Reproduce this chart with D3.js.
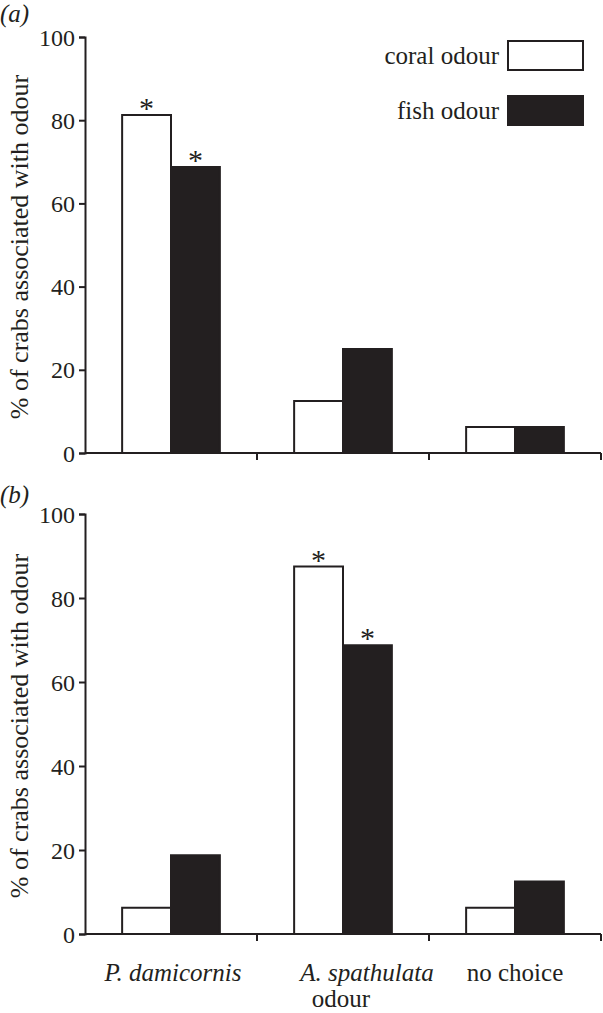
<!DOCTYPE html>
<html lang="en">
<head>
  <meta charset="utf-8" />
  <title>Crab odour choice</title>
  <style>
    body { margin: 0; background: #fff; }
    svg { display: block; }
    svg text { font-family: "Liberation Serif", "Times New Roman", serif; fill: #231f20; }
    .axis path, .axis line { stroke: #231f20; stroke-width: 2px; }
    .axis text { font-size: 24px; }
  </style>
</head>
<body>
<script src="https://cdn.jsdelivr.net/npm/d3@7"></script>
<script>
  const categories = ["P. damicornis", "A. spathulata", "no choice"];
  const series = ["coral odour", "fish odour"];
  const yTicks = [0, 20, 40, 60, 80, 100];

  // panel (a)
  const coralA = [81.25, 12.5, 6.25];
  const fishA = [68.75, 25, 6.25];
  const sigA = [true, false, false];
  // panel (b)
  const coralB = [6.25, 87.5, 6.25];
  const fishB = [18.75, 68.75, 12.5];
  const sigB = [false, true, false];

  const width = 603, height = 1013;
  const ink = "#231f20";

  const svg = d3.select("body").append("svg")
    .attr("width", width)
    .attr("height", height);

  const x = d3.scaleBand().domain(categories).range([85, 601]);
  const xs = d3.scaleBand().domain(series).range([0, x.bandwidth()]).paddingOuter(0.76);
  const fills = {"coral odour": "#fff", "fish odour": ink};

  const panels = [
    {label: "(a)", coral: coralA, fish: fishA, sig: sigA, top: 37, bottom: 453, labelY: 22, xLabels: false},
    {label: "(b)", coral: coralB, fish: fishB, sig: sigB, top: 514, bottom: 934, labelY: 503, xLabels: true}
  ];

  panels.forEach(p => {
    const y = d3.scaleLinear().domain([0, 100]).range([p.bottom, p.top]);
    const g = svg.append("g");

    const rows = categories.map((c, i) => ({
      cat: c,
      vals: [
        {s: "coral odour", v: p.coral[i], sig: p.sig[i]},
        {s: "fish odour", v: p.fish[i], sig: p.sig[i]}
      ]
    }));

    const grp = g.selectAll("g.cat").data(rows).join("g")
      .attr("class", "cat")
      .attr("transform", d => `translate(${x(d.cat)},0)`);

    grp.selectAll("rect").data(d => d.vals).join("rect")
      .attr("x", d => xs(d.s))
      .attr("width", xs.bandwidth())
      .attr("y", d => y(d.v))
      .attr("height", d => y(0) - y(d.v))
      .attr("fill", d => fills[d.s])
      .attr("stroke", ink)
      .attr("stroke-width", 2);

    grp.selectAll("text.sig").data(d => d.vals.filter(v => v.sig)).join("text")
      .attr("class", "sig")
      .attr("x", d => xs(d.s) + xs.bandwidth() / 2)
      .attr("y", d => y(d.v) + 3)
      .attr("text-anchor", "middle")
      .attr("font-size", 30)
      .text("*");

    // y axis
    g.append("g")
      .attr("class", "axis")
      .attr("transform", "translate(85,0)")
      .call(d3.axisLeft(y).tickValues(yTicks).tickSize(6).tickPadding(4).tickFormat(d3.format("d")))
      .attr("font-family", null)
      .attr("font-size", null)
      .call(a => a.selectAll(".tick text").attr("dy", "0.34em"));

    // x axis: ticks at category boundaries
    const xa = g.append("g").attr("class", "axis");
    xa.append("line")
      .attr("x1", x.range()[0]).attr("x2", x.range()[1])
      .attr("y1", y(0)).attr("y2", y(0));
    xa.selectAll("line.tk").data(categories).join("line")
      .attr("class", "tk")
      .attr("x1", d => x(d) + x.bandwidth()).attr("x2", d => x(d) + x.bandwidth())
      .attr("y1", y(0)).attr("y2", y(0) + 7);

    if (p.xLabels) {
      // the middle label sits a little right of its band centre in the original
      const nudge = [2, 24, 0];
      g.selectAll("text.cat").data(categories).join("text")
        .attr("class", "cat")
        .attr("x", (d, i) => x(d) + x.bandwidth() / 2 + nudge[i])
        .attr("y", y(0) + 47)
        .attr("text-anchor", "middle")
        .attr("font-size", 25)
        .attr("font-style", (d, i) => i < 2 ? "italic" : "normal")
        .text(d => d);
    }

    // y label
    g.append("text")
      .attr("transform", `translate(28,${(p.top + p.bottom) / 2 + 2}) rotate(-90)`)
      .attr("text-anchor", "middle")
      .attr("font-size", 26)
      .text("% of crabs associated with odour");

    // panel label
    g.append("text")
      .attr("x", 0)
      .attr("y", p.labelY)
      .attr("font-size", 25)
      .attr("font-style", "italic")
      .text(p.label);
  });

  // x title
  svg.append("text")
    .attr("x", 341)
    .attr("y", 1007)
    .attr("text-anchor", "middle")
    .attr("font-size", 25)
    .text("odour");

  // legend
  const legend = svg.append("g");
  const lg = legend.selectAll("g").data(series).join("g")
    .attr("transform", (d, i) => `translate(0,${40 + i * 55})`);
  lg.append("rect")
    .attr("x", 508).attr("y", 1)
    .attr("width", 75).attr("height", 29)
    .attr("fill", d => fills[d])
    .attr("stroke", ink).attr("stroke-width", 2);
  lg.append("text")
    .attr("x", 499).attr("y", 24)
    .attr("text-anchor", "end")
    .attr("font-size", 25)
    .text(d => d);
</script>
</body>
</html>
